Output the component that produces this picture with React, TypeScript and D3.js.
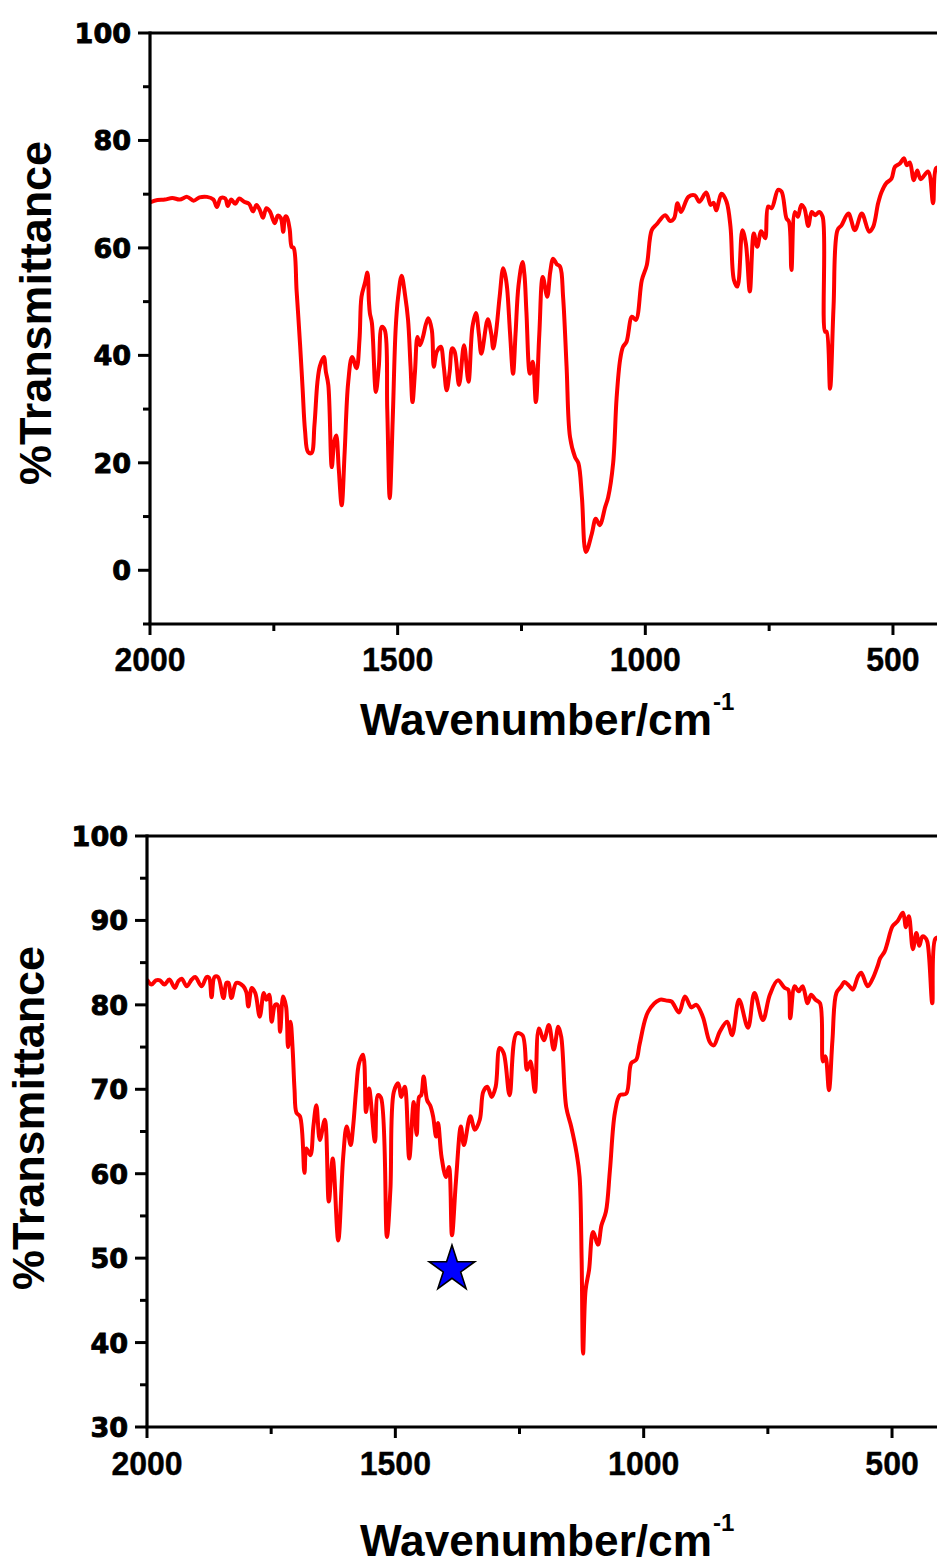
import React, { useEffect, useRef } from "react";
import * as d3 from "d3";

// ---------- data ----------
const topWavenumber = [
  2000, 1985, 1970, 1955, 1940, 1925, 1912, 1900, 1885, 1872, 1865, 1857, 1848, 1843, 1836, 1828, 1820, 1810, 1800, 1792,
  1785, 1778, 1772, 1765, 1758, 1748, 1742, 1736, 1731, 1727, 1724, 1718, 1714, 1710, 1704, 1697, 1692, 1687, 1681, 1674,
  1668, 1662, 1657, 1649, 1645, 1640, 1633, 1628, 1624, 1619, 1613, 1607, 1600, 1592, 1583, 1577, 1573, 1566, 1561, 1558,
  1556, 1552, 1544, 1538, 1532, 1526, 1521, 1516, 1510, 1504, 1499, 1492, 1485, 1479, 1474, 1470, 1465, 1460, 1455, 1449,
  1443, 1438, 1431, 1427, 1421, 1413, 1407, 1401, 1395, 1390, 1385, 1376, 1366, 1357, 1349, 1342, 1336, 1331, 1318, 1311,
  1307, 1302, 1294, 1287, 1283, 1279, 1273, 1267, 1262, 1256, 1248, 1244, 1240, 1233, 1227, 1221, 1214, 1207, 1198, 1192,
  1186, 1179, 1172, 1166, 1159, 1152, 1142, 1135, 1128, 1120, 1108, 1100, 1092, 1081, 1075, 1065, 1058, 1051, 1045, 1038,
  1027, 1019, 1007, 997, 987, 977, 960, 950, 942, 935, 928, 913, 900, 891, 877, 868, 862, 857, 846, 836,
  828, 821, 814, 804, 797, 789, 781, 774, 766, 758, 752, 745, 732, 725, 715, 710, 705, 698, 692, 685,
  679, 671, 664, 657, 649, 642, 637, 634, 627, 620, 612, 604, 590, 577, 563, 548, 540, 530, 523, 514,
  503, 496, 486, 478, 472, 466, 458, 451, 444, 429, 419, 413, 405,
];
const topTransmittance = [
  68.5, 68.9, 69.0, 69.3, 69.0, 69.5, 68.8, 69.4, 69.5, 69.0, 67.6, 69.3, 69.2, 67.8, 69.0, 68.2, 69.2, 68.6, 68.2, 66.8,
  68.0, 67.0, 65.6, 67.4, 66.8, 64.6, 66.0, 65.6, 63.0, 65.8, 65.8, 63.5, 60.2, 60.0, 52, 42, 34, 26, 22, 21.8,
  27, 35, 38, 39.7, 37, 34.5, 19.2, 24, 25.1, 19, 12.1, 22, 34.8, 39.7, 37.6, 43, 50.9, 53.5, 55.4, 50,
  47.8, 46, 33.2, 38, 45.3, 44.7, 30, 13.4, 28, 45, 50.9, 54.8, 51.2, 46.6, 38, 31.3, 37, 43.4, 41.9, 43.4,
  45.8, 46.9, 44.7, 37.9, 40.7, 41.6, 38, 33.5, 37, 41.3, 40.7, 34.5, 41.9, 35.1, 45.3, 47.9, 44, 40.3, 46.7, 44,
  41.3, 43.8, 51, 56.2, 55, 52.5, 44, 36.6, 44, 53, 57.4, 55, 48, 36.6, 38.8, 31.3, 44, 54.6, 50.9, 55.5,
  58.0, 57, 56.5, 50.9, 38, 24.8, 21.1, 19.9, 13.6, 3.4, 6.8, 9.6, 8.4, 11.8, 13.6, 19.9, 32, 39.1, 41.6, 42.5,
  47.2, 46.6, 54, 56.8, 63.3, 64.4, 66.1, 65, 65.5, 68.3, 66.7, 69.5, 69.8, 68.6, 70.3, 68, 68.4, 67, 70.1, 68.6,
  63.9, 54, 52.8, 63.3, 60.8, 51.9, 62.7, 60.2, 63.1, 61.8, 67.7, 67.4, 70.8, 70.5, 65.5, 64.9, 55.9, 66.7, 65.8, 68,
  67.4, 64.1, 66.7, 66.1, 66.7, 65.8, 44.4, 44.4, 33.8, 49, 63.3, 64.2, 66.4, 63.3, 66.4, 63, 63.9, 68.3, 70.4, 72,
  72.9, 75.1, 75.7, 76.7, 75.4, 75.9, 72.6, 74.4, 72.8, 74.2, 68.3, 74.8, 75,
];

const bottomWavenumber = [
  2000, 1991, 1982, 1974, 1965, 1955, 1944, 1937, 1930, 1920, 1910, 1903, 1890, 1880, 1875, 1870, 1864, 1857, 1846, 1840,
  1836, 1830, 1820, 1806, 1800, 1796, 1789, 1782, 1773, 1765, 1760, 1754, 1749, 1742, 1737, 1732, 1726, 1720, 1716, 1711,
  1707, 1703, 1699, 1692, 1683, 1679, 1671, 1665, 1659, 1652, 1642, 1634, 1626, 1615, 1605, 1598, 1590, 1585, 1579, 1573,
  1565, 1559, 1553, 1541, 1535, 1529, 1517, 1510, 1503, 1494, 1488, 1481, 1472, 1463, 1457, 1452, 1448, 1443, 1436, 1430,
  1424, 1418, 1414, 1407, 1398, 1392, 1386, 1378, 1368, 1362, 1349, 1340, 1330, 1323, 1315, 1306, 1298, 1290, 1282, 1270,
  1256, 1244, 1235, 1228, 1219, 1211, 1201, 1191, 1181, 1172, 1166, 1156, 1146, 1135, 1129, 1125, 1122, 1117, 1110, 1102,
  1092, 1085, 1076, 1068, 1058, 1048, 1035, 1025, 1015, 1008, 991, 968, 954, 944, 929, 917, 904, 894, 881, 867,
  859, 847, 832, 822, 808, 790, 777, 760, 746, 730, 716, 709, 705, 696, 688, 680, 670, 663, 654, 645,
  639, 634, 627, 620, 612, 602, 596, 587, 579, 569, 562, 549, 539, 529, 524, 515, 509, 499, 489, 478,
  472, 466, 458, 451, 445, 439, 434, 429, 419, 413, 405,
];
const bottomTransmittance = [
  83.0, 82.4, 82.9, 82.9, 82.4, 83.0, 82.0, 82.8, 83.1, 82.2, 83.0, 83.3, 82.2, 83.3, 83.2, 80.9, 83.3, 83.3, 80.8, 82.6,
  82.6, 80.8, 82.6, 82.2, 81.5, 79.8, 82.0, 81.4, 78.6, 81.4, 80.6, 81.2, 78.0, 80.0, 80.0, 76.8, 81.0, 79.8, 75.0, 78.0,
  75.0, 70, 67.2, 66.8, 60.1, 63.0, 62.2, 65.6, 68.1, 64.0, 66.4, 56.7, 61.8, 52.1, 62.0, 65.6, 63.4, 65.6, 69.9, 73.1,
  74.1, 67.3, 70.1, 63.8, 69.3, 69.0, 52.5, 58.1, 69.7, 70.7, 69.1, 70.3, 61.8, 68.5, 64.6, 69.1, 69.3, 71.5, 68.7, 68.1,
  66.8, 64.4, 66.0, 62.0, 59.6, 60.8, 52.7, 59.1, 65.6, 63.4, 66.8, 65.2, 66.4, 69.7, 70.3, 69.1, 70.3, 74.9, 74.3, 69.3,
  76.6, 76.4, 72.3, 73.3, 69.7, 77.2, 75.8, 77.6, 74.7, 77.4, 76.2, 67.9, 65.6, 62.4, 59.6, 50, 38.7, 46.2, 48.6, 53.1,
  51.6, 53.9, 55.5, 60.4, 67.2, 69.3, 69.5, 73.1, 73.5, 75.4, 79.2, 80.6, 80.5, 80.4, 79.1, 81.0, 79.7, 80.0, 78.6, 75.6,
  75.2, 76.8, 78.0, 76.4, 80.6, 77.3, 81.4, 78.2, 81.2, 82.9, 82.0, 81.8, 78.4, 82.2, 81.6, 82.2, 80.2, 81.2, 80.6, 80.2,
  73.3, 73.9, 69.9, 75.8, 81.4, 82.2, 82.7, 82.3, 81.8, 83.3, 83.8, 82.2, 83.1, 84.6, 85.5, 86.3, 87.4, 89.3, 89.9, 90.9,
  89.2, 90.5, 86.6, 88.5, 87.0, 88.1, 88.0, 87.5, 80.2, 87.8, 88,
];

const xMajorTicks = [2000, 1500, 1000, 500];
const xMinorTicks = [1750, 1250, 750];
const topYMajor = [0, 20, 40, 60, 80, 100];
const topYMinor = [-10, 10, 30, 50, 70, 90];
const bottomYMajor = [30, 40, 50, 60, 70, 80, 90, 100];
const bottomYMinor = [35, 45, 55, 65, 75, 85, 95];
const starMarker = { wavenumber: 1386, transmittance: 48.7 };

const yTitle = "%Transmittance";
const xTitle = "Wavenumber/cm";

export default function App() {
  const ref = useRef<SVGSVGElement | null>(null);

  useEffect(() => {
    const svg = d3.select(ref.current);
    svg.selectAll("*").remove();

    const panels = [
      {
        left: 150, top: 33, bottom: 624, xRight: 942.5, yDomain: [-10, 100],
        wn: topWavenumber, tr: topTransmittance, yMajor: topYMajor, yMinor: topYMinor,
        yLabelRight: 131, yTitleX: 51, yTitleY: 313, xTitleBaseline: 735, xLabelBaseline: 671, star: false,
      },
      {
        left: 147, top: 836, bottom: 1427, xRight: 941.7, yDomain: [30, 100],
        wn: bottomWavenumber, tr: bottomTransmittance, yMajor: bottomYMajor, yMinor: bottomYMinor,
        yLabelRight: 128, yTitleX: 44, yTitleY: 1118, xTitleBaseline: 1556, xLabelBaseline: 1475, star: true,
      },
    ];

    panels.forEach((p, i) => {
      const x = d3.scaleLinear().domain([2000, 400]).range([p.left, p.xRight]);
      const y = d3.scaleLinear().domain(p.yDomain).range([p.bottom, p.top]);
      const g = svg.append("g");

      const clipId = `clip${i}`;
      svg.append("defs").append("clipPath").attr("id", clipId)
        .append("rect").attr("x", p.left).attr("y", p.top - 5).attr("width", 1000).attr("height", p.bottom - p.top + 10);

      // curve
      const pts = p.wn.map((w, k) => [w, p.tr[k]] as [number, number]);
      const line = d3.line<[number, number]>()
        .x((d) => x(d[0]))
        .y((d) => y(d[1]))
        .curve(d3.curveCatmullRom.alpha(0.5));
      g.append("path")
        .attr("d", line(pts) as string)
        .attr("fill", "none")
        .attr("stroke", "#ff0000")
        .attr("stroke-width", 4)
        .attr("stroke-linejoin", "round")
        .attr("clip-path", `url(#${clipId})`);

      // axes lines
      const axisStroke = 3.2;
      g.append("line").attr("x1", p.left).attr("x2", 940).attr("y1", p.top).attr("y2", p.top)
        .attr("stroke", "#000").attr("stroke-width", axisStroke);
      g.append("line").attr("x1", p.left - 1.5).attr("x2", 940).attr("y1", p.bottom).attr("y2", p.bottom)
        .attr("stroke", "#000").attr("stroke-width", axisStroke);
      g.append("line").attr("x1", p.left).attr("x2", p.left).attr("y1", p.top - 1.5).attr("y2", p.bottom)
        .attr("stroke", "#000").attr("stroke-width", axisStroke);

      // y ticks
      p.yMajor.forEach((v) => {
        g.append("line").attr("x1", p.left - 12).attr("x2", p.left).attr("y1", y(v)).attr("y2", y(v))
          .attr("stroke", "#000").attr("stroke-width", 3);
        const s = String(v);
        g.append("text")
          .attr("x", p.yLabelRight).attr("y", y(v) + 10)
          .attr("text-anchor", "end")
          .attr("font-family", "'DejaVu Sans', sans-serif")
          .attr("font-weight", "bold")
          .attr("font-size", 27)
          .attr("stroke", "#000")
          .attr("stroke-width", 0.9)
          .attr("textLength", s.length * 18.8)
          .attr("lengthAdjust", "spacingAndGlyphs")
          .text(s);
      });
      p.yMinor.forEach((v) => {
        g.append("line").attr("x1", p.left - 7).attr("x2", p.left).attr("y1", y(v)).attr("y2", y(v))
          .attr("stroke", "#000").attr("stroke-width", 3);
      });

      // x ticks
      xMajorTicks.forEach((v) => {
        g.append("line").attr("x1", x(v)).attr("x2", x(v)).attr("y1", p.bottom).attr("y2", p.bottom + 11)
          .attr("stroke", "#000").attr("stroke-width", 3);
        const s = String(v);
        g.append("text")
          .attr("x", x(v)).attr("y", p.xLabelBaseline)
          .attr("text-anchor", "middle")
          .attr("font-family", "'Liberation Sans', Arial, sans-serif")
          .attr("font-weight", "bold")
          .attr("font-size", 34)
          .attr("stroke", "#000")
          .attr("stroke-width", 0.4)
          .attr("textLength", s.length * 17.8)
          .attr("lengthAdjust", "spacingAndGlyphs")
          .text(s);
      });
      xMinorTicks.forEach((v) => {
        g.append("line").attr("x1", x(v)).attr("x2", x(v)).attr("y1", p.bottom).attr("y2", p.bottom + 7)
          .attr("stroke", "#000").attr("stroke-width", 3);
      });

      // y title
      g.append("text")
        .attr("transform", `translate(${p.yTitleX},${p.yTitleY}) rotate(-90)`)
        .attr("text-anchor", "middle")
        .attr("font-family", "'Liberation Sans', Arial, sans-serif")
        .attr("font-weight", "bold")
        .attr("font-size", 44)
        .attr("textLength", 344)
        .attr("lengthAdjust", "spacingAndGlyphs")
        .text(yTitle);

      // x title
      g.append("text")
        .attr("x", 360).attr("y", p.xTitleBaseline)
        .attr("font-family", "'Liberation Sans', Arial, sans-serif")
        .attr("font-weight", "bold")
        .attr("font-size", 44)
        .attr("textLength", 352)
        .attr("lengthAdjust", "spacingAndGlyphs")
        .text(xTitle);
      g.append("text")
        .attr("x", 713).attr("y", p.xTitleBaseline - 25)
        .attr("font-family", "'Liberation Sans', Arial, sans-serif")
        .attr("font-weight", "bold")
        .attr("font-size", 24)
        .text("-1");

      if (p.star) {
        g.append("path")
          .attr("d", d3.symbol().type(d3.symbolStar).size((24 * 24) / 0.8908130915292852)() as string)
          .attr("transform", `translate(${x(starMarker.wavenumber)},${y(starMarker.transmittance)})`)
          .attr("fill", "#0000ff")
          .attr("stroke", "#000")
          .attr("stroke-width", 1.6)
          .attr("stroke-linejoin", "miter");
      }
    });
  }, []);

  return (
    <div style={{ position: "absolute", left: 0, top: 0, width: 937, height: 1564, overflow: "hidden", background: "#fff" }}>
      <svg ref={ref} width={937} height={1564} style={{ display: "block" }} />
    </div>
  );
}
